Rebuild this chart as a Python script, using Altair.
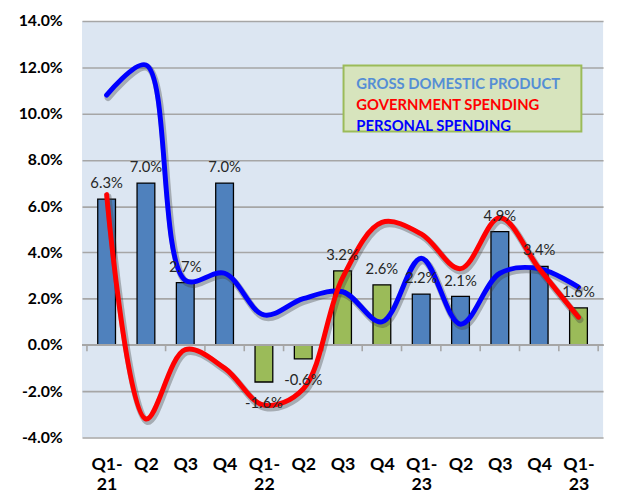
import json
import altair as alt
import pandas as pd

# ---- data ----
periods = ["Q1-21", "Q2-21", "Q3-21", "Q4-21", "Q1-22", "Q2-22", "Q3-22",
           "Q4-22", "Q1-23", "Q2-23", "Q3-23", "Q4-23", "Q1-23b"]
tick_labels = [["Q1-", "21"], ["Q2"], ["Q3"], ["Q4"], ["Q1-", "22"], ["Q2"], ["Q3"],
               ["Q4"], ["Q1-", "23"], ["Q2"], ["Q3"], ["Q4"], ["Q1-", "23"]]
gdp = [6.3, 7.0, 2.7, 7.0, -1.6, -0.6, 3.2, 2.6, 2.2, 2.1, 4.9, 3.4, 1.6]
government = [6.5, -3.2, -0.2, -1.0, -2.6, -1.9, 2.9, 5.3, 4.8, 3.3, 5.5, 3.3, 1.2]
personal = [10.8, 12.1, 2.8, 3.1, 1.3, 2.0, 2.3, 1.0, 3.75, 0.9, 3.1, 3.3, 2.5]
y_ticks = [-4, -2, 0, 2, 4, 6, 8, 10, 12, 14]
legend_items = ["GROSS DOMESTIC PRODUCT", "GOVERNMENT SPENDING", "PERSONAL SPENDING"]
legend_colors = ["#558ED5", "#FF0000", "#0000FF"]

idx = list(range(len(periods)))
bars = pd.DataFrame({"idx": idx, "period": periods, "gdp": gdp})
bars["label"] = [("-" if v < 0 else "") + f"{abs(v):.1f}%" for v in gdp]
lines = pd.DataFrame({
    "idx": idx * 2,
    "value": personal + government,
    "series": ["PERSONAL SPENDING"] * len(idx) + ["GOVERNMENT SPENDING"] * len(idx),
})
bounds = pd.DataFrame({"idx": [i - 0.5 for i in range(len(idx) + 1)]})
legend_df = pd.DataFrame({"text": legend_items})

W, H = 528, 422
FONT = "Lato"
xscale = alt.Scale(domain=[-0.5, len(idx) - 0.5], nice=False, zero=False)
yscale = alt.Scale(domain=[-4, 14], nice=False)

label_expr = "[" + ",".join(json.dumps(l) for l in tick_labels) + "][datum.value]"

x_axis = alt.Axis(values=idx, labelExpr=label_expr, grid=False, ticks=False, domain=False,
                  title=None, labelFont=FONT, labelFontWeight="bold", labelFontSize=18,
                  labelColor="#000000", labelPadding=18, labelLineHeight=21,
                  labelBaseline="top")
y_axis = alt.Axis(values=y_ticks,
                  labelExpr="(datum.value < 0 ? '-' : '') + format(abs(datum.value), '.1f') + '%'",
                  grid=True, gridColor="#A6A6A6", gridWidth=1.6, ticks=False, domain=False,
                  title=None, labelFont=FONT, labelFontWeight="bold", labelFontSize=16,
                  labelColor="#000000", labelPadding=20)


def X(field):
    return alt.X(field, type="quantitative", scale=xscale, axis=x_axis)


def Y(field):
    return alt.Y(field, type="quantitative", scale=yscale, axis=y_axis)


bar_layer = alt.Chart(bars).mark_bar(size=18, stroke="#000000", strokeWidth=1.3).encode(
    x=X("idx"),
    y=Y("gdp"),
    color=alt.condition("(datum.idx >= 4 && datum.idx <= 7) || datum.idx == 12",
                        alt.value("#9BBB59"), alt.value("#4F81BD")),
)

zero_rule = alt.Chart(bars).transform_calculate(zero="0").mark_rule(
    color="#A6A6A6", strokeWidth=1.6).encode(y=Y("zero"))
zero_ticks = alt.Chart(bounds).transform_calculate(zero="0", tick="-0.27").mark_rule(
    color="#A6A6A6", strokeWidth=1.6).encode(
    x=X("idx"), y=Y("zero"), y2="tick:Q")

line_color = alt.Color("series:N", scale=alt.Scale(
    domain=["PERSONAL SPENDING", "GOVERNMENT SPENDING"],
    range=["#0000FF", "#FF0000"]), legend=None)

shadow = alt.Chart(lines).mark_line(interpolate="catmull-rom", strokeWidth=7, color="#404040",
                                    opacity=0.35, xOffset=1.5, yOffset=2.5,
                                    strokeCap="round").encode(
    x=X("idx"), y=Y("value"), detail="series:N", order="idx:Q")
line_layer = alt.Chart(lines).mark_line(interpolate="catmull-rom", strokeWidth=5,
                                        strokeCap="round").encode(
    x=X("idx"), y=Y("value"), color=line_color, order="idx:Q")

pos_labels = alt.Chart(bars).transform_filter("datum.gdp >= 0").mark_text(
    font=FONT, fontSize=15, color="#262626", baseline="alphabetic", dy=-11).encode(
    x=X("idx"), y=Y("gdp"), text="label:N")
neg_labels = alt.Chart(bars).transform_filter("datum.gdp < 0").mark_text(
    font=FONT, fontSize=15, color="#262626", baseline="alphabetic", dy=26).encode(
    x=X("idx"), y=Y("gdp"), text="label:N")

legend_box = alt.Chart(legend_df).transform_filter(
    alt.datum.text == legend_items[0]).mark_rect(
    fill="#D7E4BD", stroke="#9BBB59", strokeWidth=2).encode(
    x=alt.value(265), x2=alt.value(506), y=alt.value(45), y2=alt.value(112))

legend_layers = []
for i, (item, col) in enumerate(zip(legend_items, legend_colors)):
    legend_layers.append(
        alt.Chart(legend_df).transform_filter(alt.datum.text == item).mark_text(
            font=FONT, fontSize=15, fontWeight="bold", align="left", baseline="middle",
            color=col).encode(x=alt.value(278), y=alt.value(64 + 21 * i), text="text:N"))

chart = alt.layer(
    bar_layer, zero_rule, zero_ticks, shadow, line_layer, pos_labels, neg_labels,
    legend_box, *legend_layers,
).properties(
    width=W, height=H,
    autosize=alt.AutoSizeParams(type="none"),
    padding={"left": 75, "top": 10, "right": 7, "bottom": 56},
    background="#FFFFFF",
).configure_view(fill="#DCE6F2", stroke=None)

chart.save("out.html", embed_options={"renderer": "svg", "actions": False})
